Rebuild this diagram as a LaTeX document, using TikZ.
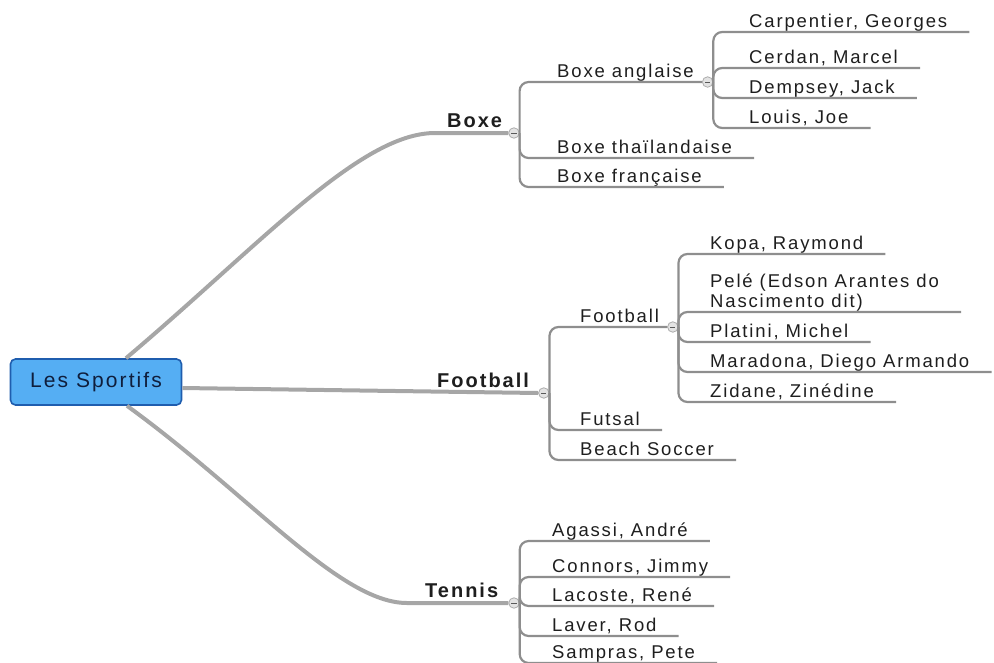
\documentclass[tikz,border=0pt]{standalone}
\usepackage{fontspec}
\usepackage{tikz}
\usetikzlibrary{positioning}
\newfontfamily\mapfont[LetterSpace=10]{Liberation Sans}
\definecolor{rootfill}{HTML}{55AEF3}
\definecolor{rootline}{HTML}{1F5DAE}
\definecolor{roottext}{HTML}{0F1E3C}
\definecolor{trunkgray}{HTML}{A6A6A6}
\definecolor{twiggray}{HTML}{8E8E8E}
\definecolor{inkgray}{HTML}{1E1E1E}
\begin{document}
\begin{tikzpicture}[x=1pt, y=-1pt,
  root/.style={draw=rootline, fill=rootfill, line width=1.6pt, rounded corners=5pt,
    minimum width=171pt, minimum height=46pt, text=roottext,
    font=\mapfont\fontsize{21}{25}\selectfont},
  topic/.style={anchor=south west, inner xsep=0pt, inner ysep=5pt, text depth=0pt,
    text=inkgray, font=\mapfont\bfseries\fontsize{20}{24}\selectfont},
  leaf/.style={anchor=south west, inner xsep=0pt, inner ysep=4.5pt, text depth=0pt,
    text=inkgray, align=left, font=\mapfont\fontsize{18.5}{20}\selectfont},
  fold/.style={circle, draw=gray!65, fill=gray!22, line width=0.8pt, inner sep=0pt,
    minimum size=10.5pt,
    path picture={\draw[line width=1pt, black!65]
      ([xshift=-2.6pt]path picture bounding box.center) --
      ([xshift=2.6pt]path picture bounding box.center);}},
  trunk/.style={draw=trunkgray, line width=4pt},
  twig/.style={draw=twiggray, line width=2.2pt, rounded corners=9pt}]
  \useasboundingbox (0,0) rectangle (994,662);
  % ---- centre
  \node[root] (sport) at (96,382) {Les Sportifs};
  % ---- main topics
  \node[topic] (boxe) at (447,133) {Boxe};
  \node[fold, right=6pt of boxe.south east] (boxefold) {};
  \node[topic] (foot) at (437,393) {Football};
  \node[fold, right=9pt of foot.south east] (footfold) {};
  \node[topic] (tennis) at (425,603) {Tennis};
  \node[fold, right=10pt of tennis.south east] (tennisfold) {};
  \draw[trunk] ([xshift=30pt]sport.north) .. controls (260,245) and (360,133) ..
    ([xshift=-12pt]boxe.south west) -- (boxefold.west);
  \draw[trunk] ([yshift=-6pt]sport.east) -- (footfold.west);
  \draw[trunk] ([xshift=31pt]sport.south) .. controls (250,495) and (340,603) ..
    ([xshift=-18pt]tennis.south west) -- (tennisfold.west);
  % ---- boxe
  \node[leaf] (anglaise) at (557,82) {Boxe anglaise};
  \node[fold, right=8pt of anglaise.south east] (anglfold) {};
  \draw[twig] (boxefold.east) |- (anglaise.south west) -- (anglfold.west);
  \foreach \name/\y/\txt in {thai/158/{Boxe thaïlandaise}, franc/187/{Boxe française}} {
    \node[leaf] (\name) at (557,\y) {\txt};
    \draw[twig] (boxefold.east) |- (\name.south west) -- ([xshift=22pt]\name.south east);
  }
  \foreach \name/\y/\txt in {carp/32/{Carpentier, Georges}, cerd/68/{Cerdan, Marcel},
      demp/98/{Dempsey, Jack}, louis/128/{Louis, Joe}} {
    \node[leaf] (\name) at (749,\y) {\txt};
    \draw[twig] (anglfold.east) |- (\name.south west) -- ([xshift=22pt]\name.south east);
  }
  % ---- football
  \node[leaf] (footsub) at (580,327) {Football};
  \node[fold, right=8pt of footsub.south east] (subfold) {};
  \draw[twig] (footfold.east) |- (footsub.south west) -- (subfold.west);
  \foreach \name/\y/\txt in {futsal/430/{Futsal}, beach/460/{Beach Soccer}} {
    \node[leaf] (\name) at (580,\y) {\txt};
    \draw[twig] (footfold.east) |- (\name.south west) -- ([xshift=22pt]\name.south east);
  }
  \foreach \name/\y/\txt in {kopa/254/{Kopa, Raymond},
      pele/312/{Pelé (Edson Arantes do\\Nascimento dit)}, plat/342/{Platini, Michel},
      mara/372/{Maradona, Diego Armando}, zid/402/{Zidane, Zinédine}} {
    \node[leaf] (\name) at (710,\y) {\txt};
    \draw[twig] (subfold.east) |- (\name.south west) -- ([xshift=22pt]\name.south east);
  }
  % ---- tennis
  \foreach \name/\y/\txt in {agas/541/{Agassi, André}, conn/577/{Connors, Jimmy},
      laco/606/{Lacoste, René}, laver/636/{Laver, Rod}, samp/663/{Sampras, Pete}} {
    \node[leaf] (\name) at (552,\y) {\txt};
    \draw[twig] (tennisfold.east) |- (\name.south west) -- ([xshift=22pt]\name.south east);
  }
\end{tikzpicture}
\end{document}
